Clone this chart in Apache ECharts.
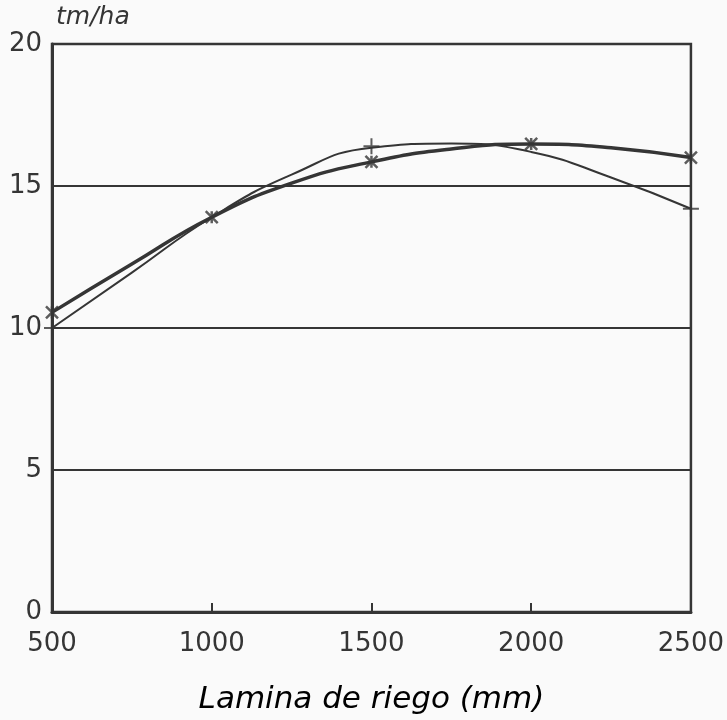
<!DOCTYPE html>
<html>
<head>
<meta charset="utf-8">
<script src="https://cdn.jsdelivr.net/npm/echarts@6/dist/echarts.min.js"></script>
<style>
html,body{margin:0;padding:0;background:#fafafa;}
#c{width:727px;height:720px;}
</style>
</head>
<body>
<div id="c"></div>
<script>
// Lamina de riego (mm) at which the drawn curves were read
const laminaCurve = [500, 750, 1000, 1250, 1500, 1750, 2000, 2250, 2500];
// thick curve
const curveA = [10.55, 12.25, 13.9, 15.1, 15.85, 16.3, 16.48, 16.35, 16.0];
// thin curve
const curveB = [10.0, 11.95, 13.9, 15.4, 16.35, 16.5, 16.2, 15.3, 14.2];
// observed points (markers)
const laminaA = [500, 1000, 1500, 2000, 2500];
const markA = [10.55, 13.9, 15.85, 16.48, 16.0];
const laminaB = [500, 1500, 2500];
const markB = [10.0, 16.4, 14.2];
const yTicks = [0, 5, 10, 15, 20];
const xTicks = [500, 1000, 1500, 2000, 2500];

const ink = '#353535';
const starPath = 'path://M0,0L10,10M10,0L0,10M5,0L5,10';
const plusPath = 'path://M5,0L5,10M0,5L10,5';
const zip = (xs, ys) => xs.map((x, i) => [x, ys[i]]);

const chart = echarts.init(document.getElementById('c'), null, {renderer: 'canvas'});
chart.setOption({
  backgroundColor: '#fafafa',
  animation: false,
  grid: {left: 52, right: 34, top: 44, bottom: 106, show: true, borderColor: ink, borderWidth: 2.5, backgroundColor: 'transparent'},
  xAxis: {
    type: 'value', min: xTicks[0], max: xTicks[xTicks.length - 1], interval: 500,
    name: 'Lamina de riego (mm)', nameLocation: 'middle', nameGap: 72,
    nameTextStyle: {fontFamily: 'DejaVu Sans', fontStyle: 'italic', fontSize: 31, color: '#000'},
    axisLine: {show: true, lineStyle: {color: ink, width: 3}},
    axisTick: {show: true, inside: true, length: 9, lineStyle: {color: ink, width: 2}},
    splitLine: {show: false},
    axisLabel: {fontFamily: 'DejaVu Sans', fontSize: 26, color: ink, margin: 19, letterSpacing: -1, formatter: v => String(v)}
  },
  yAxis: {
    type: 'value', min: yTicks[0], max: yTicks[yTicks.length - 1], interval: 5,
    name: 'tm/ha', nameLocation: 'end', nameGap: 14,
    nameTextStyle: {fontFamily: 'DejaVu Sans', fontStyle: 'italic', fontSize: 25, color: ink, align: 'left', padding: [0, 0, 0, 4], letterSpacing: 2},
    axisLine: {show: true, lineStyle: {color: ink, width: 3}},
    axisTick: {show: false},
    splitLine: {show: true, lineStyle: {color: ink, width: 2}},
    axisLabel: {fontFamily: 'DejaVu Sans', fontSize: 26, color: ink, margin: 10}
  },
  series: [
    {
      type: 'line', data: zip(laminaCurve, curveA), smooth: 0.5, symbol: 'none',
      lineStyle: {color: ink, width: 3.5}, z: 3
    },
    {
      type: 'line', data: zip(laminaCurve, curveB), smooth: 0.5, symbol: 'none',
      lineStyle: {color: ink, width: 2}, z: 3
    },
    {
      type: 'scatter', data: zip(laminaA, markA),
      symbol: starPath, symbolSize: 12,
      itemStyle: {color: 'none', borderColor: ink, borderWidth: 2.5}, z: 4
    },
    {
      type: 'scatter', data: zip(laminaB, markB),
      symbol: plusPath, symbolSize: 16,
      itemStyle: {color: 'none', borderColor: ink, borderWidth: 2}, z: 4
    }
  ]
});
</script>
</body>
</html>
